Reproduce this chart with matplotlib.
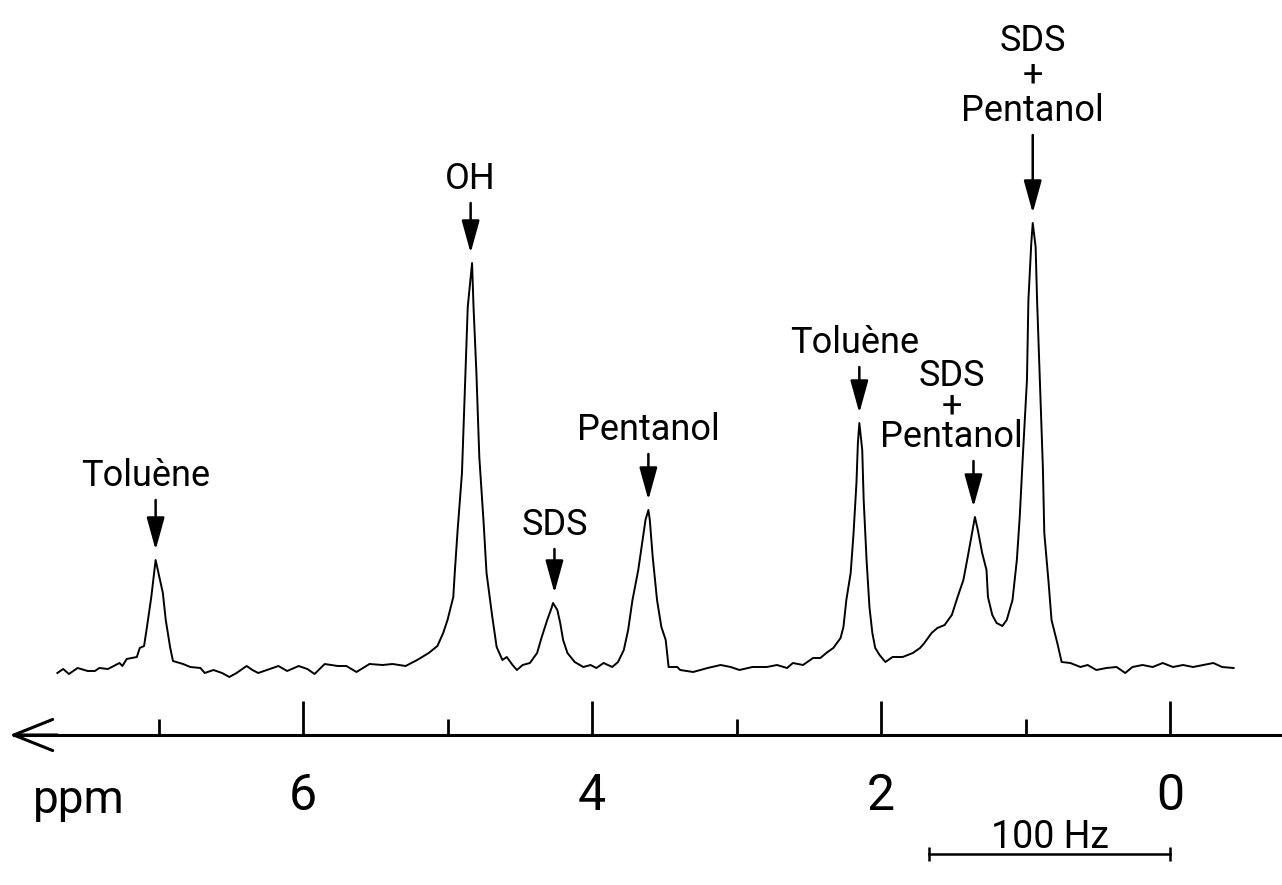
import matplotlib.pyplot as plt

# spectre RMN 1H (ppm, intensité relative)
ppm = [7.70, 7.66, 7.62, 7.56, 7.49, 7.44, 7.41, 7.35, 7.27, 7.25, 7.22, 7.15, 7.13, 7.10,
       7.08, 7.05, 7.02, 7.00, 6.97, 6.95, 6.92, 6.90, 6.83, 6.78, 6.71, 6.68, 6.62, 6.56,
       6.51, 6.46, 6.39, 6.35, 6.31, 6.25, 6.17, 6.11, 6.03, 5.97, 5.92, 5.85, 5.76, 5.70,
       5.63, 5.54, 5.45, 5.38, 5.29, 5.21, 5.13, 5.07, 5.03, 5.00, 4.96, 4.95, 4.93, 4.90,
       4.88, 4.86, 4.84, 4.83, 4.82, 4.80, 4.78, 4.75, 4.73, 4.69, 4.66, 4.62, 4.59, 4.55,
       4.52, 4.48, 4.43, 4.38, 4.35, 4.31, 4.28, 4.27, 4.24, 4.22, 4.20, 4.17, 4.12, 4.06,
       4.01, 3.97, 3.92, 3.86, 3.82, 3.78, 3.75, 3.72, 3.68, 3.65, 3.63, 3.61, 3.60, 3.58,
       3.55, 3.52, 3.49, 3.47, 3.41, 3.39, 3.30, 3.20, 3.11, 3.04, 2.98, 2.89, 2.79, 2.72,
       2.65, 2.61, 2.54, 2.47, 2.42, 2.37, 2.33, 2.28, 2.26, 2.24, 2.21, 2.19, 2.17, 2.16,
       2.15, 2.13, 2.12, 2.10, 2.08, 2.06, 2.04, 2.01, 1.97, 1.92, 1.85, 1.78, 1.73, 1.70,
       1.65, 1.61, 1.56, 1.51, 1.47, 1.43, 1.40, 1.37, 1.35, 1.33, 1.30, 1.27, 1.26, 1.23,
       1.20, 1.16, 1.13, 1.09, 1.06, 1.04, 1.02, 0.99, 0.98, 0.96, 0.95, 0.93, 0.92, 0.90,
       0.88, 0.87, 0.84, 0.82, 0.78, 0.75, 0.69, 0.62, 0.57, 0.51, 0.44, 0.37, 0.31, 0.26,
       0.19, 0.12, 0.05, -0.02, -0.09, -0.16, -0.23, -0.30, -0.36, -0.44]
intens = [-5, -1, -6, 0, -3, -3, 0, -1, 5, 2, 9, 11, 20, 22,
          41, 71, 108, 95, 75, 48, 21, 7, 4, 1, 0, -5, -2, -5,
          -9, -5, 2, -2, -5, -2, 2, -3, 2, -1, -6, 4, 2, 2,
          -4, 4, 3, 4, 2, 8, 15, 22, 35, 48, 71, 95, 138, 195,
          278, 361, 391, 405, 361, 295, 211, 145, 95, 51, 21, 8, 11, 3,
          -2, 3, 5, 15, 30, 48, 60, 65, 58, 45, 28, 15, 6, 1,
          3, 0, 5, 1, 6, 18, 38, 68, 98, 128, 148, 158, 148, 111,
          68, 41, 28, 1, 1, -2, -4, 0, 3, 1, -2, 1, 1, 3,
          0, 5, 3, 10, 10, 16, 20, 30, 41, 68, 95, 135, 185, 225,
          245, 218, 168, 108, 61, 35, 20, 13, 6, 11, 11, 15, 20, 25,
          35, 40, 43, 53, 71, 88, 111, 135, 151, 138, 115, 98, 71, 53,
          45, 42, 48, 68, 108, 151, 208, 288, 368, 425, 445, 421, 368, 285,
          201, 135, 85, 48, 25, 6, 5, 1, 3, -2, 0, 1, -5, 1,
          3, 1, 5, 1, 3, 1, 3, 5, 1, 0]

# attributions des pics : texte, position du pic en ppm, sommet du pic
peak_labels = ["Toluène", "OH", "SDS", "Pentanol", "Toluène", "SDS\n+\nPentanol", "SDS\n+\nPentanol"]
peak_ppm = [7.02, 4.84, 4.26, 3.61, 2.15, 1.36, 0.95]
peak_top = [108, 405, 65, 158, 245, 151, 445]

major_ticks = [0, 2, 4, 6]
minor_ticks = [1, 3, 5, 7]
scale_hz = 100
spectro_mhz = 60

plt.rcParams['font.family'] = ['Roboto', 'DejaVu Sans']

fig = plt.figure(figsize=(12.82, 8.85), dpi=100)
ax = fig.add_axes([0, 0, 1, 1])
ax.set_xlim(8.097, -0.775)
ax.set_ylim(-217, 668)
ax.axis('off')

# courbe
ax.plot(ppm, intens, color='black', lw=1.4)

# axe des ppm avec flèche
y_axis = -67
ax.plot([8.0, -0.775], [y_axis, y_axis], color='black', lw=2.2)
ax.annotate('', xy=(8.03, y_axis), xytext=(7.7, y_axis),
            arrowprops=dict(arrowstyle='->,head_length=0.7,head_width=0.28', lw=2.2,
                            color='black', mutation_scale=40, shrinkA=0, shrinkB=0))
ax.vlines(major_ticks, y_axis, y_axis + 34, color='black', lw=2)
ax.vlines(minor_ticks, y_axis, y_axis + 16, color='black', lw=2)
for t in major_ticks:
    ax.text(t, -142, str(t), ha='center', va='baseline', fontsize=36)
ax.text(7.87, -145, "ppm", ha='left', va='baseline', fontsize=33)

# étiquettes des pics avec flèches
arrow_len = [50, 50, 44, 46, 46, 46, 78]
text_dx = [0.07, 0, 0, 0, 0.03, 0.15, 0]
line_sp = [0.8, 0.8, 0.8, 0.8, 0.8, 0.8, 0.97]
for lab, x, top, ln, dx, ls in zip(peak_labels, peak_ppm, peak_top, arrow_len, text_dx, line_sp):
    tip = top + 10
    tail = tip + ln
    ax.annotate('', xy=(x, tip), xytext=(x, tail),
                arrowprops=dict(arrowstyle='-|>,head_length=0.8,head_width=0.22', lw=1.8,
                                color='black', mutation_scale=25, shrinkA=0, shrinkB=0))
    ax.text(x + dx, tail + 14, lab, ha='center', va='baseline', fontsize=26,
            linespacing=ls, multialignment='center')

# échelle 100 Hz
bar_len = scale_hz / spectro_mhz
y_bar = -186
ax.plot([bar_len, 0], [y_bar, y_bar], color='black', lw=1.8)
ax.vlines([bar_len, 0], y_bar - 7, y_bar + 7, color='black', lw=1.8)
ax.text(bar_len / 2, y_bar + 6, "100 Hz", ha='center', va='baseline', fontsize=27)

fig.savefig('out.png', dpi=100)
